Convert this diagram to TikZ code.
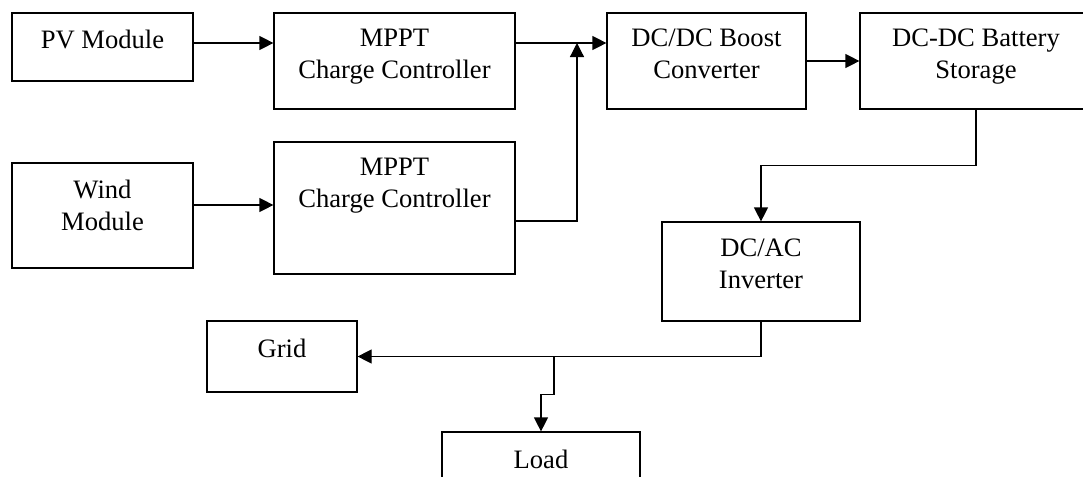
\documentclass[tikz,border=0pt]{standalone}
\usepackage{fontspec}
\setmainfont{Liberation Serif}
\usetikzlibrary{arrows.meta,positioning}
\tikzset{
  blockbox/.style={draw, line width=0.6pt, inner sep=0pt},
  blocktext/.style={align=center, inner sep=0pt, font=\fontsize{13.3}{16}\selectfont},
  flow/.style={-{Triangle[length=7pt,width=7pt]}, line width=0.6pt}
}
\begin{document}
\begin{tikzpicture}[x=0.5pt, y=-0.5pt]
\useasboundingbox (0,0) rectangle (1083,477);
% boxes
\node[blockbox, minimum width=90.5pt, minimum height=34pt] (pv) at (102.5,47) {};
\node[blockbox, minimum width=120.5pt, minimum height=48pt] (mpptpv) at (394.5,61) {};
\node[blockbox, minimum width=90.5pt, minimum height=52.5pt] (wind) at (102.5,215.5) {};
\node[blockbox, minimum width=120.5pt, minimum height=66pt] (mpptwind) at (394.5,208) {};
\node[blockbox, minimum width=99.5pt, minimum height=48pt] (boost) at (706.5,61) {};
\node[blockbox, minimum width=116pt, minimum height=48pt] (battery) at (976,61) {};
\node[blockbox, minimum width=99pt, minimum height=49.5pt] (inverter) at (761,271.5) {};
\node[blockbox, minimum width=75pt, minimum height=35.5pt] (grid) at (282,356.5) {};
\node[blockbox, minimum width=99pt, minimum height=35.5pt] (load) at (541,467.5) {};
% texts
\node[blocktext, below=8.5pt of pv.north] (pvtext) {PV Module};
\node[blocktext, below=8pt of mpptpv.north] (mpptpvtext) {MPPT\\Charge Controller};
\node[blocktext, below=8.5pt of wind.north] (windtext) {Wind\\Module};
\node[blocktext, below=8pt of mpptwind.north] (mpptwindtext) {MPPT\\Charge Controller};
\node[blocktext, below=8pt of boost.north] (boosttext) {DC/DC Boost\\Converter};
\node[blocktext, below=8pt of battery.north] (batterytext) {DC-DC Battery\\Storage};
\node[blocktext, below=8.5pt of inverter.north] (invertertext) {DC/AC\\Inverter};
\node[blocktext, below=9pt of grid.north] (gridtext) {Grid};
\node[blocktext, below=9pt of load.north] (loadtext) {Load};
% connectors
\coordinate (merge) at (577,43);
\coordinate (tap) at (554,0 |- grid.east);
\draw[flow] (pv.east |- 0,43) -- (mpptpv.west |- 0,43);
\draw[flow] (wind.east |- 0,205) -- (mpptwind.west |- 0,205);
\draw[flow] (mpptpv.east |- 0,43) -- (boost.west |- 0,43);
\draw[flow] (mpptwind.east |- 0,221) -| (merge);
\draw[flow] (boost.east) -- (battery.west);
\draw[flow] (battery.south) -- ++(0,56) -| (inverter.north);
\draw[flow] (inverter.south) |- (grid.east);
\draw[flow] (tap) -- ++(0,38) -| (load.north);
\end{tikzpicture}
\end{document}
